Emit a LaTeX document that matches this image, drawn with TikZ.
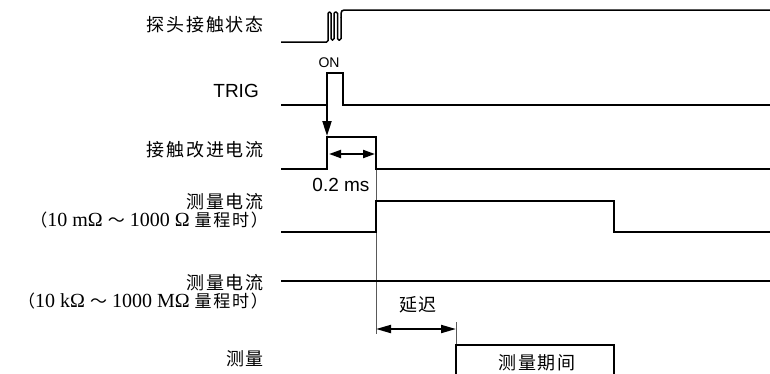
\documentclass[tikz,border=0pt]{standalone}
\usepackage{fontspec}
\setmainfont{Liberation Serif}
\setsansfont{Liberation Sans}
\newfontfamily\cjk[LetterSpace=10]{Noto Sans CJK SC}
\usetikzlibrary{arrows.meta}
\newcommand{\cjs}[1]{{\fontsize{17}{20}\selectfont\cjk #1}}
\begin{document}
\begin{tikzpicture}[x=1pt,y=-1pt,
  sig/.style={line width=1.8pt, line join=miter},
  bounce/.style={line width=1.5pt, rounded corners=1.4pt},
  guide/.style={line width=0.7pt, black!65},
  arr/.style={line width=2pt},
  tipA/.style={-{Triangle[length=15pt,width=9pt]}},
  tipB/.style={{Triangle[length=12pt,width=8pt]}-{Triangle[length=12pt,width=8pt]}},
  tipC/.style={{Triangle[length=15pt,width=8pt]}-{Triangle[length=15pt,width=8pt]}},
  lab/.style={inner sep=0pt, anchor=east},
  cj/.style={font=\fontsize{18}{21}\selectfont\cjk},
  sf/.style={font=\fontsize{19}{22}\selectfont\sffamily},
  rm/.style={font=\fontsize{20}{22}\selectfont\rmfamily}]
\useasboundingbox (0,0) rectangle (770,373);
\clip (0,0) rectangle (770,373);

% labels
\node[lab,cj] (l1) at (264,25) {探头接触状态};
\node[lab,sf] (l2) at (259,91) {TRIG};
\node[lab,cj] (l3) at (264,150) {接触改进电流};
\node[lab,cj] (l4a) at (264,202) {测量电流};
\node[lab,rm] (l4b) at (268,220) {\cjs{（}10 mΩ \cjs{～} 1000 Ω \cjs{量程时）}};
\node[lab,cj] (l5a) at (264,283) {测量电流};
\node[lab,rm] (l5b) at (268,301) {\cjs{（}10 kΩ \cjs{～} 1000 MΩ \cjs{量程时）}};
\node[lab,cj] (l6) at (264,359) {测量};

% signal 1: probe contact state with bounce
\draw[bounce] (281,42) -- (328,42) -- (328,12) -- (331,12) -- (331,40) -- (334,40) -- (334,12) -- (337.5,12) -- (337.5,40) -- (341,40) -- (341,17);
\draw[line width=1.5pt] (341,17.5) .. controls (341,10) .. (348,10) -- (770,10);

% signal 2: TRIG
\draw[sig] (281,105) -- (327,105) -- (327,73) -- (343,73) -- (343,105) -- (770,105);
\node[font=\fontsize{14}{16}\selectfont\sffamily, inner sep=0pt] (on) at (329,63) {ON};
\coordinate (trigup) at (327,73);
\coordinate (cipup) at (327,136);
\draw[arr,tipA] (trigup) -- (cipup);

% signal 3: contact improvement current
\draw[sig] (281,169) -- (327,169) -- (327,137) -- (376,137) -- (376,169) -- (770,169);
\coordinate (w1) at (329,154);
\coordinate (w2) at (375,154);
\draw[arr,tipB] (w1) -- (w2);
\node[sf, inner sep=0pt] (t02) at (341,185) {0.2 ms};

% guide lines
\coordinate (g1a) at (376,170);
\coordinate (g1b) at (376,334);
\draw[guide] (g1a) -- (g1b);
\coordinate (g2a) at (456,322);
\coordinate (g2b) at (456,345);
\draw[guide] (g2a) -- (g2b);

% signal 4
\draw[sig] (281,232) -- (376,232) -- (376,201) -- (614,201) -- (614,232) -- (770,232);

% signal 5
\draw[sig] (281,281) -- (770,281);

% delay
\coordinate (d1) at (376,329);
\coordinate (d2) at (456,329);
\draw[arr,tipC] (d1) -- (d2);
\node[cj, inner sep=0pt] (delay) at (418,305) {延迟};

% measurement period
\draw[sig] (456,374) -- (456,345) -- (614,345) -- (614,374);
\node[cj, inner sep=0pt] (mp) at (537,363) {测量期间};
\end{tikzpicture}
\end{document}
